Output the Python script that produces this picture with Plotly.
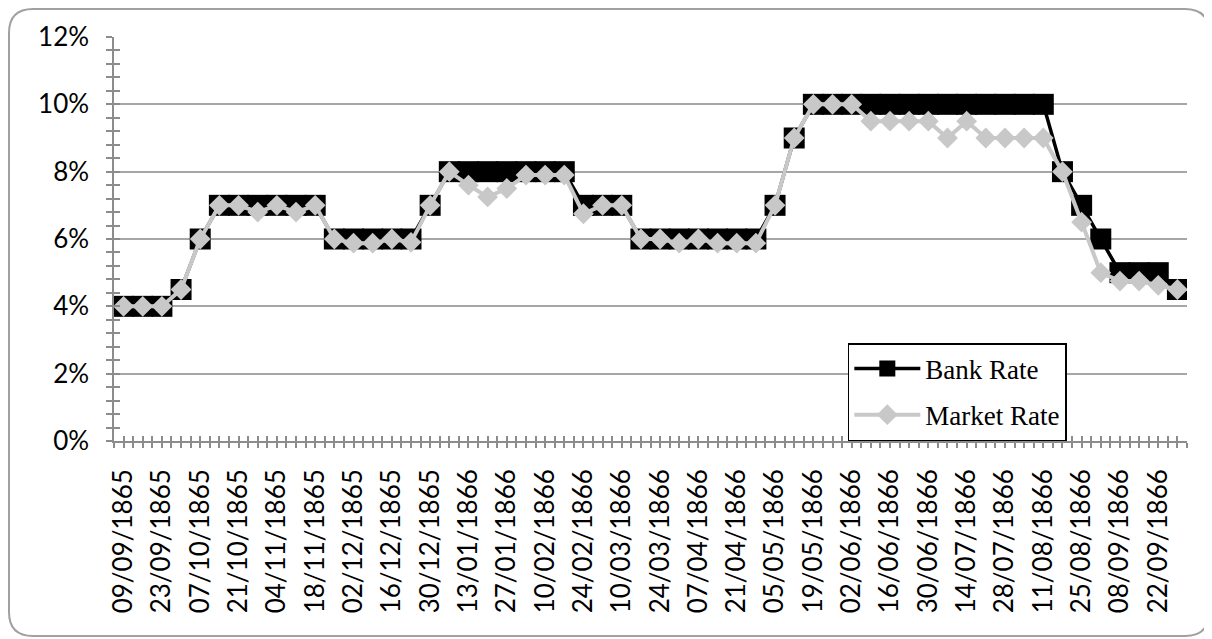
import pandas as pd
import plotly.graph_objects as go

# ---- data -------------------------------------------------------------
start_date = "1865-09-09"
n_weeks = 56
dates = pd.date_range(start_date, periods=n_weeks, freq="7D")

bank_rate = [4, 4, 4, 4.5, 6, 7, 7, 7, 7, 7, 7, 6, 6, 6, 6, 6, 7,
             8, 8, 8, 8, 8, 8, 8, 7, 7, 7, 6, 6, 6, 6, 6, 6, 6, 7, 9,
             10, 10, 10, 10, 10, 10, 10, 10, 10, 10, 10, 10, 10,
             8, 7, 6, 5, 5, 5, 4.5]

market_rate = [4, 4, 4, 4.5, 6, 7, 7, 6.8, 7, 6.8, 7, 6, 5.875, 5.875, 6, 5.9, 7,
               8, 7.6, 7.25, 7.5, 7.9, 7.9, 7.9, 6.75, 7, 7, 6, 6, 5.875, 6, 5.875, 5.875, 5.875, 7, 9,
               10, 10, 10, 9.5, 9.5, 9.5, 9.5, 9, 9.5, 9, 9, 9, 9,
               8, 6.5, 5, 4.75, 4.75, 4.625, 4.5]

series_names = ["Bank Rate", "Market Rate"]
y_ticks = [0, 0.02, 0.04, 0.06, 0.08, 0.10, 0.12]

# ---- figure -----------------------------------------------------------
# the page has an 8px body margin, so the figure is 8px smaller and offset
W, H = 1204, 631
ML, MR, MT, MB = 106, 25, 29, 198

half_week = pd.Timedelta(days=3.5)
x_range = [dates[0] - half_week, dates[-1] + half_week]
tick_dates = list(dates[::2])
minor_dtick = 3.5 * 86400000

axis_gray = "#8c8c8c"
grid_gray = "#a6a6a6"

fig = go.Figure()
fig.add_trace(go.Scatter(
    x=dates, y=[v / 100 for v in bank_rate], name=series_names[0],
    mode="lines+markers", legendgroup="a",
    line=dict(color="black", width=3.5),
    marker=dict(symbol="square", size=21, color="black"),
))
fig.add_trace(go.Scatter(
    x=dates, y=[v / 100 for v in market_rate], name=series_names[1],
    mode="lines+markers", legendgroup="b",
    line=dict(color="#c8c8c8", width=4),
    marker=dict(symbol="diamond", size=16, color="#c8c8c8"),
))
# helper trace for overlay axes (inside halves of crossing tick marks)
fig.add_trace(go.Scatter(x=[dates[0]], y=[0], xaxis="x2", yaxis="y2",
                         mode="markers", marker=dict(opacity=0),
                         showlegend=False, hoverinfo="skip"))

tick_font = dict(family="Lato", size=26, color="black")

fig.update_layout(
    width=W, height=H,
    margin=dict(l=ML, r=MR, t=MT, b=MB),
    paper_bgcolor="white", plot_bgcolor="white",
    showlegend=True,
    legend=dict(
        x=0.888, y=0, xanchor="right", yanchor="bottom",
        bordercolor="black", borderwidth=1.5, bgcolor="white",
        font=dict(family="Liberation Serif", size=27, color="black"),
        traceorder="grouped", tracegroupgap=8,
        itemwidth=66,
    ),
    xaxis=dict(
        type="date", range=x_range,
        tickvals=tick_dates, tickformat="%d/%m/%Y", tickangle=-90,
        tickfont=tick_font, ticks="outside", ticklen=5, tickwidth=1.5,
        tickcolor=axis_gray,
        minor=dict(ticks="outside", ticklen=5, tickwidth=1.5, tickcolor=axis_gray,
                   dtick=minor_dtick, tick0=dates[0] - half_week, showgrid=False),
        showline=True, linecolor=axis_gray, linewidth=1.5,
        showgrid=False, zeroline=False, ticklabelstandoff=11,
    ),
    yaxis=dict(
        range=[0, 0.12], tickvals=y_ticks, tickformat=".0%",
        tickfont=tick_font, ticks="outside", ticklen=6, tickwidth=1.5,
        tickcolor=axis_gray,
        minor=dict(ticks="outside", ticklen=6, tickwidth=1.5, tickcolor=axis_gray,
                   dtick=0.004, tick0=0, showgrid=False),
        showline=True, linecolor=axis_gray, linewidth=1.5,
        showgrid=True, gridcolor=grid_gray, gridwidth=1.5,
        zeroline=False, ticklabelstandoff=12,
    ),
    xaxis2=dict(
        type="date", range=x_range, overlaying="x", anchor="y",
        tickvals=tick_dates, showticklabels=False,
        ticks="inside", ticklen=5, tickwidth=1.5, tickcolor=axis_gray,
        minor=dict(ticks="inside", ticklen=5, tickwidth=1.5, tickcolor=axis_gray,
                   dtick=minor_dtick, tick0=dates[0] - half_week, showgrid=False),
        showgrid=False, zeroline=False, showline=False,
    ),
    yaxis2=dict(
        range=[0, 0.12], overlaying="y", anchor="x", side="left",
        tickvals=y_ticks, showticklabels=False,
        ticks="inside", ticklen=6, tickwidth=1.5, tickcolor=axis_gray,
        minor=dict(ticks="inside", ticklen=6, tickwidth=1.5, tickcolor=axis_gray,
                   dtick=0.004, tick0=0, showgrid=False),
        showgrid=False, zeroline=False, showline=False,
    ),
)

# rounded outer border (paper coordinates relative to the plot area),
# given in figure pixel coordinates
pw, ph = W - ML - MR, H - MT - MB
def px(xp):
    return (xp - ML) / pw
def py(yp):
    return (H - MB - yp) / ph
x0, x1, y0, y1, r = 1, 1201, 1, 628, 24
path = (f"M {px(x0 + r)} {py(y0)} L {px(x1 - r)} {py(y0)} "
        f"Q {px(x1)} {py(y0)} {px(x1)} {py(y0 + r)} "
        f"L {px(x1)} {py(y1 - r)} Q {px(x1)} {py(y1)} {px(x1 - r)} {py(y1)} "
        f"L {px(x0 + r)} {py(y1)} Q {px(x0)} {py(y1)} {px(x0)} {py(y1 - r)} "
        f"L {px(x0)} {py(y0 + r)} Q {px(x0)} {py(y0)} {px(x0 + r)} {py(y0)} Z")
fig.add_shape(type="path", path=path, xref="paper", yref="paper",
              line=dict(color="#a0a0a0", width=2), layer="below")

fig.write_html("out.html")
